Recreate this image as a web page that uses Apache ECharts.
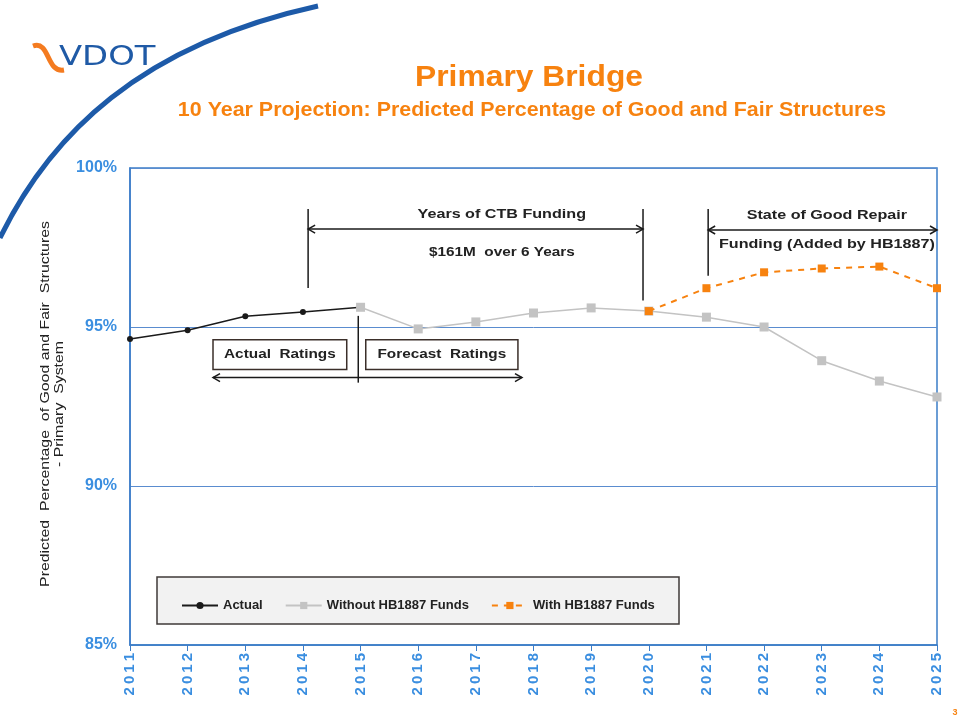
<!DOCTYPE html>
<html>
<head>
<meta charset="utf-8">
<script src="https://cdn.jsdelivr.net/npm/echarts@6/dist/echarts.min.js"></script>
<style>
  html, body { margin: 0; padding: 0; background: #fff; }
  #chart { width: 959px; height: 723px; }
</style>
</head>
<body>
<div id="chart"></div>
<script>
var years = ['2011', '2012', '2013', '2014', '2015', '2016', '2017', '2018',
  '2019', '2020', '2021', '2022', '2023', '2024', '2025'];
var actual = [94.62, 94.9, 95.34, 95.47, 95.62, null, null, null,
  null, null, null, null, null, null, null];
var withoutFunds = [null, null, null, null, 95.62, 94.94, 95.16, 95.44,
  95.6, 95.5, 95.31, 95.0, 93.94, 93.3, 92.8];
var withFunds = [null, null, null, null, null, null, null, null,
  null, 95.5, 96.22, 96.72, 96.84, 96.9, 96.22];
var yTicks = [85, 90, 95, 100];

// annotation spans, in [category index, value] terms
var ctbSpan = [3.09, 8.9];
var sgrSpan = [10.03, 14];
var ratingsSplit = 3.96;

var blue = '#3b7dc8';
var labelBlue = '#3a8ee0';
var orange = '#f7820f';
var font = '"Liberation Sans", Arial, sans-serif';

var chart = echarts.init(document.getElementById('chart'));

chart.setOption({
  animation: false,
  grid: {
    left: 130,
    right: 22,
    top: 168,
    bottom: 78,
    show: true,
    borderColor: blue,
    borderWidth: 1.5
  },
  xAxis: {
    type: 'category',
    data: years,
    boundaryGap: false,
    axisLine: { lineStyle: { color: blue, width: 1.5 } },
    axisTick: { show: true, length: 6, lineStyle: { color: blue } },
    axisLabel: {
      rotate: 90,
      color: labelBlue,
      fontWeight: 'bold',
      fontSize: 15,
      fontFamily: font,
      margin: 8,
      formatter: function (v) { return v.split('').join('\u2009'); }
    },
    splitLine: { show: false }
  },
  yAxis: {
    type: 'value',
    min: yTicks[0],
    max: yTicks[yTicks.length - 1],
    interval: 5,
    axisLine: { show: true, lineStyle: { color: blue, width: 1.5 } },
    axisTick: { show: false },
    axisLabel: {
      formatter: '{value}%',
      color: labelBlue,
      fontWeight: 'bold',
      fontSize: 16,
      fontFamily: font,
      margin: 13
    },
    splitLine: { show: true, lineStyle: { color: '#5a8ccf', width: 1 } }
  },
  legend: {
    left: 176,
    top: 594,
    itemWidth: 36,
    itemHeight: 9,
    itemGap: 22,
    textStyle: { fontFamily: font, fontSize: 13, fontWeight: 'bold', color: '#222' },
    data: ['Actual', 'Without HB1887 Funds', 'With HB1887 Funds']
  },
  series: [
    {
      name: 'Actual',
      type: 'line',
      data: actual,
      symbol: 'circle',
      symbolSize: 6,
      color: '#1a1a1a',
      lineStyle: { color: '#1a1a1a', width: 1.5 },
      z: 2
    },
    {
      name: 'Without HB1887 Funds',
      type: 'line',
      data: withoutFunds,
      symbol: 'rect',
      symbolSize: 9,
      color: '#c3c3c3',
      lineStyle: { color: '#c3c3c3', width: 1.5 },
      z: 3
    },
    {
      name: 'With HB1887 Funds',
      type: 'line',
      data: withFunds,
      symbol: 'rect',
      symbolSize: 8,
      color: orange,
      lineStyle: { color: orange, width: 2, type: [6, 6] },
      z: 4
    }
  ]
});

// pixel position for a fractional category index and a value
function px(xi, v) {
  var a = chart.convertToPixel({ gridIndex: 0 }, [0, v]);
  var b = chart.convertToPixel({ gridIndex: 0 }, [years.length - 1, v]);
  return [a[0] + (b[0] - a[0]) * xi / (years.length - 1), a[1]];
}

function line(p1, p2, w) {
  return {
    type: 'line',
    shape: { x1: p1[0], y1: p1[1], x2: p2[0], y2: p2[1] },
    style: { stroke: '#1a1a1a', lineWidth: w || 1.5 },
    z: 10
  };
}

function arrowHead(p, dir) {
  return {
    type: 'polyline',
    shape: { points: [[p[0] - dir * 7, p[1] - 4], p, [p[0] - dir * 7, p[1] + 4]] },
    style: { stroke: '#1a1a1a', lineWidth: 1.5, fill: null },
    z: 10
  };
}

function doubleArrow(x1, x2, v) {
  var a = px(x1, v), b = px(x2, v);
  return [line(a, b), arrowHead(a, -1), arrowHead(b, 1)];
}

function label(text, xi, v, size, sx) {
  var p = px(xi, v);
  return {
    type: 'text',
    x: p[0],
    y: p[1],
    scaleX: sx || 1.24,
    style: {
      text: text,
      font: 'bold ' + (size || 13) + 'px ' + font,
      fill: '#222',
      align: 'center',
      verticalAlign: 'middle'
    },
    z: 11
  };
}

function box(text, x1, x2, v1, v2) {
  var a = px(x1, v1), b = px(x2, v2);
  return [
    {
      type: 'rect',
      shape: { x: a[0], y: a[1], width: b[0] - a[0], height: b[1] - a[1] },
      style: { fill: '#fff', stroke: '#3b2f2a', lineWidth: 1.5 },
      z: 10
    },
    label(text, (x1 + x2) / 2, (v1 + v2) / 2, 13, 1.18)
  ];
}

var g = [];
// Years of CTB funding
g.push(line(px(ctbSpan[0], 98.71), px(ctbSpan[0], 96.23)));
g.push(line(px(ctbSpan[1], 98.71), px(ctbSpan[1], 95.83)));
g = g.concat(doubleArrow(ctbSpan[0], ctbSpan[1], 98.08));
g.push(label('Years of CTB Funding', 6.45, 98.55));
g.push(label('$161M  over 6 Years', 6.45, 97.33, 13, 1.18));
// State of good repair
g.push(line(px(sgrSpan[0], 98.71), px(sgrSpan[0], 96.61)));
g = g.concat(doubleArrow(sgrSpan[0], sgrSpan[1], 98.05));
g.push(label('State of Good Repair', 12.09, 98.52));
g.push(label('Funding (Added by HB1887)', 12.09, 97.61));
// Actual / Forecast ratings
g = g.concat(box('Actual  Ratings', 1.44, 3.76, 94.6, 93.66));
g = g.concat(box('Forecast  Ratings', 4.09, 6.73, 94.6, 93.66));
g.push(line(px(ratingsSplit, 95.35), px(ratingsSplit, 93.25)));
g = g.concat(doubleArrow(1.44, 6.8, 93.41));

// legend frame
g.push({
  type: 'rect',
  shape: { x: 157, y: 577, width: 522, height: 47 },
  style: { fill: '#f2f2f2', stroke: '#3f3a38', lineWidth: 1.5 },
  z: -1
});

// titles
g.push({
  type: 'text', x: 529, y: 78, scaleX: 1.06,
  style: { text: 'Primary Bridge', font: 'bold 30px ' + font, fill: orange,
    align: 'center', verticalAlign: 'middle' }
});
g.push({
  type: 'text', x: 532, y: 110, scaleX: 1.02,
  style: { text: '10 Year Projection: Predicted Percentage of Good and Fair Structures',
    font: 'bold 21px ' + font, fill: orange, align: 'center', verticalAlign: 'middle' }
});

// y axis title
g.push({
  type: 'text', x: 52, y: 404, rotation: Math.PI / 2, scaleX: 1.22,
  style: { text: 'Predicted  Percentage  of Good and Fair  Structures\n- Primary  System',
    font: '13px ' + font, fill: '#222', align: 'center', verticalAlign: 'middle',
    lineHeight: 14 }
});

// logo and decorative arc
g.push({
  type: 'bezierCurve',
  shape: { x1: 0, y1: 238, cpx1: 50, cpy1: 135, cpx2: 140, cpy2: 45, x2: 318, y2: 6 },
  style: { stroke: '#1d5aa8', lineWidth: 5, fill: null },
  z: -2
});
g.push({
  type: 'bezierCurve',
  shape: { x1: 33, y1: 46, cpx1: 50, cpy1: 40, cpx2: 46, cpy2: 73, x2: 64, y2: 70 },
  style: { stroke: '#f47b20', lineWidth: 5, fill: null }
});
g.push({
  type: 'text', x: 59, y: 58, scaleX: 1.3,
  style: { text: 'VDOT', font: '26px "DejaVu Sans", sans-serif', fill: '#1f5aa6',
    align: 'left', verticalAlign: 'middle' }
});

// page number
g.push({
  type: 'text', x: 955, y: 713,
  style: { text: '3', font: 'bold 9px ' + font, fill: orange, align: 'center',
    verticalAlign: 'middle' }
});

chart.setOption({ graphic: g });
</script>
</body>
</html>
